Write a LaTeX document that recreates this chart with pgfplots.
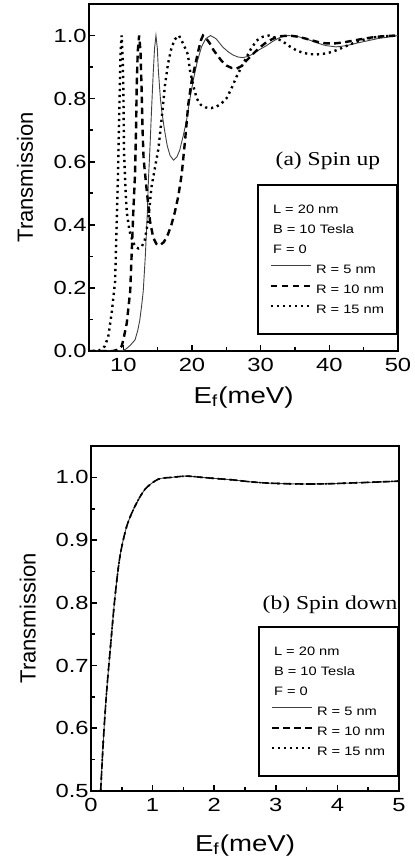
\documentclass[border=0pt]{standalone}
\usepackage{fontspec}
\setmainfont{Liberation Sans}
\newfontfamily\tickfont[FakeStretch=1.25]{Liberation Sans}
\newfontfamily\labfont[FakeStretch=1.2]{Liberation Sans}
\newfontfamily\panelfont[FakeStretch=1.2]{Liberation Serif}
\usepackage{pgfplots}
\pgfplotsset{compat=1.18}

\newcommand{\hdr}[1]{\rlap{\hspace*{-21.5pt}#1}}

\pgfplotsset{
 panel/.style={
  scale only axis, anchor=south west,
  tick pos=left, tick align=inside,
  major tick length=3pt, minor tick length=1.8pt,
  minor x tick num=1, minor y tick num=1,
  axis line style={line width=1.1pt},
  tick style={line width=0.8pt,black},
  ticklabel style={font=\tickfont\fontsize{9.5}{10}\selectfont,
   /pgf/number format/assume math mode=true},
  yticklabel style={/pgf/number format/fixed,/pgf/number format/fixed zerofill,
   /pgf/number format/precision=1, inner xsep=1pt},
  ylabel={Transmission},
  xlabel={E\textsubscript{f}(meV)},
  xlabel style={anchor=base, font=\labfont\fontsize{11.5}{12}\selectfont},
  ylabel style={anchor=center, font=\fontsize{11}{12}\selectfont},
  legend cell align=left,
  legend image code/.code={\draw[##1] (0pt,2pt) -- (20pt,2pt);},
  legend style={draw=black, line width=1pt, anchor=north east,
   font=\labfont\fontsize{6.1}{6.5}\selectfont,
   inner xsep=6pt, inner ysep=9pt, row sep=3.5pt, column sep=1.5pt,
   nodes={inner sep=0.5pt, text height=4.3pt, text depth=1.2pt}},
 },
 rfive/.style={black!75, line width=0.45pt},
 rten/.style={black, line width=1.2pt, dash pattern=on 3.3pt off 2.2pt},
 rfifteen/.style={black, line width=1.2pt, dash pattern=on 1.1pt off 1.9pt},
}

\begin{document}
\begin{tikzpicture}
\useasboundingbox (-44.5pt,-257pt) rectangle (163pt,175.5pt);

% (a) spin up
\begin{axis}[panel, at={(0pt,0pt)},
 width=154.5pt, height=173.5pt,
 xmin=5, xmax=50, ymin=0, ymax=1.1,
 xtick={10,20,30,40,50}, ytick={0,0.2,0.4,0.6,0.8,1.0},
 xlabel style={at={(axis description cs:0.5,-0.15)}},
 ylabel style={at={(axis description cs:-0.207,0.5)}},
 legend style={at={(1,0.48)}}]
\addlegendimage{empty legend}\addlegendentry{\hdr{L = 20 nm}}
\addlegendimage{empty legend}\addlegendentry{\hdr{B = 10 Tesla}}
\addlegendimage{empty legend}\addlegendentry{\hdr{F = 0}}
\addplot[rfive] coordinates {
(5,0) (7,0) (9,0) (10,0.002) (10.5,0.008) (11,0.018) (11.7,0.035) (12.1,0.065)
(12.4,0.098) (12.7,0.15) (12.9,0.19) (13.2,0.30) (13.5,0.44) (13.65,0.54)
(13.85,0.63) (14.1,0.76) (14.35,0.88) (14.55,0.96) (14.75,1.0) (14.95,0.96)
(15.1,0.89) (15.4,0.8) (15.6,0.76) (16.0,0.70) (16.4,0.65) (16.8,0.62)
(17.3,0.605) (17.8,0.615) (18.2,0.636) (18.7,0.68) (19.2,0.73) (19.7,0.80)
(20.2,0.86) (20.8,0.92) (21.4,0.965) (22.0,0.99) (22.7,1.0) (23.5,0.99)
(24.5,0.963) (25.3,0.948) (26.0,0.938) (26.7,0.932) (27.4,0.93) (28.2,0.934)
(28.9,0.942) (29.8,0.955) (30.85,0.968) (31.8,0.982) (32.8,0.994) (33.9,1.0)
(35.2,0.998) (36.6,0.99) (38.0,0.978) (39.5,0.968) (41.0,0.964) (42.5,0.968)
(44.0,0.976) (45.5,0.983) (47,0.99) (48.5,0.995) (50,1.0)};
\addlegendentry{R = 5 nm}
\addplot[rten] coordinates {
(5,0) (7,0) (8.5,0) (9.3,0.005) (9.75,0.015) (10.0,0.035) (10.5,0.088)
(11.0,0.19) (11.2,0.30) (11.45,0.44) (11.7,0.56) (11.85,0.7) (11.95,0.84)
(12.1,0.95) (12.3,1.0) (12.5,0.95) (12.65,0.84) (12.8,0.70) (12.95,0.61)
(13.4,0.51) (13.9,0.41) (14.35,0.36) (14.8,0.34) (15.3,0.335) (15.9,0.345)
(16.5,0.37) (17.0,0.40) (17.5,0.44) (18.0,0.49) (18.5,0.56) (19.0,0.67)
(19.45,0.78) (19.9,0.85) (20.4,0.90) (20.9,0.95) (21.3,0.985) (21.6,1.0)
(22.1,0.99) (22.6,0.975) (23.1,0.955) (23.6,0.94) (24.3,0.92) (25.0,0.905)
(25.8,0.897) (26.5,0.895) (27.2,0.903) (27.9,0.92) (28.9,0.942) (29.9,0.963)
(30.8,0.978) (31.8,0.99) (33,0.998) (34.2,1.0) (35.5,0.996) (36.6,0.99)
(37.6,0.984) (38.6,0.978) (39.6,0.975) (40.8,0.975) (42,0.978) (43.5,0.984)
(45,0.99) (46.5,0.995) (48,0.998) (50,1.0)};
\addlegendentry{R = 10 nm}
\addplot[rfifteen] coordinates {
(5.5,0) (6.5,0.002) (7.3,0.015) (7.8,0.045) (8.3,0.12) (8.8,0.22) (9.0,0.38)
(9.2,0.54) (9.35,0.7) (9.5,0.85) (9.6,0.95) (9.75,1.0) (9.9,0.93) (10.0,0.84)
(10.1,0.63) (10.3,0.52) (10.5,0.44) (10.9,0.38) (11.4,0.345) (11.8,0.33)
(12.2,0.325) (12.7,0.332) (13.1,0.35) (13.6,0.41) (14.1,0.52) (14.6,0.58)
(15.1,0.64) (15.6,0.74) (16.05,0.84) (16.5,0.91) (17.0,0.96) (17.5,0.988)
(18.1,1.0) (18.7,0.975) (19.4,0.94) (19.7,0.89) (20.2,0.84) (20.7,0.80)
(21.3,0.78) (22.0,0.772) (22.8,0.77) (23.6,0.775) (24.3,0.785) (25.0,0.80)
(25.7,0.83) (26.5,0.87) (27.2,0.90) (27.9,0.93) (28.6,0.958) (29.4,0.984)
(30.3,0.996) (31.2,1.0) (32.2,0.993) (33.3,0.98) (34.2,0.966) (35.2,0.953)
(36.2,0.945) (37.2,0.941) (38.1,0.94) (39.1,0.942) (40.0,0.946) (41.0,0.953)
(42.5,0.967) (43.9,0.98) (45.5,0.99) (47.3,0.997) (50,1.0)};
\addlegendentry{R = 15 nm}
\node[font=\panelfont\fontsize{9.8}{10}\selectfont] at (axis cs:39.8,0.602) {(a) Spin up};
\end{axis}

% (b) spin down
\begin{axis}[panel, at={(1pt,-220pt)},
 width=154pt, height=172.5pt,
 xmin=0, xmax=5, ymin=0.5, ymax=1.05,
 xtick={0,1,2,3,4,5}, ytick={0.5,0.6,0.7,0.8,0.9,1.0},
 xlabel style={at={(axis description cs:0.5,-0.174)}},
 ylabel style={at={(axis description cs:-0.205,0.5)}},
 legend style={at={(1,0.477)}}]
\addlegendimage{empty legend}\addlegendentry{\hdr{L = 20 nm}}
\addlegendimage{empty legend}\addlegendentry{\hdr{B = 10 Tesla}}
\addlegendimage{empty legend}\addlegendentry{\hdr{F = 0}}
\addplot[rfive, smooth] coordinates {
(0.157,0.5) (0.2,0.58) (0.255,0.66) (0.325,0.74) (0.39,0.81) (0.47,0.874)
(0.58,0.922) (0.714,0.954) (0.877,0.981) (1.09,0.997) (1.31,1.0) (1.55,1.002)
(1.8,1.0) (2.04,0.998) (2.3,0.996) (2.58,0.993) (2.85,0.991) (3.12,0.990)
(3.4,0.9895) (3.66,0.9895) (3.93,0.990) (4.2,0.991) (4.5,0.992) (4.75,0.993) (5,0.994)};
\addlegendentry{R = 5 nm}
\addplot[rten, line width=0.8pt, smooth] coordinates {
(0.157,0.5) (0.2,0.58) (0.255,0.66) (0.325,0.74) (0.39,0.81) (0.47,0.874)
(0.58,0.922) (0.714,0.954) (0.877,0.981) (1.09,0.997) (1.31,1.0) (1.55,1.002)
(1.8,1.0) (2.04,0.998) (2.3,0.996) (2.58,0.993) (2.85,0.991) (3.12,0.990)
(3.4,0.9895) (3.66,0.9895) (3.93,0.990) (4.2,0.991) (4.5,0.992) (4.75,0.993) (5,0.994)};
\addlegendentry{R = 10 nm}
\addplot[rfifteen, line width=0.8pt, smooth] coordinates {
(0.157,0.5) (0.2,0.58) (0.255,0.66) (0.325,0.74) (0.39,0.81) (0.47,0.874)
(0.58,0.922) (0.714,0.954) (0.877,0.981) (1.09,0.997) (1.31,1.0) (1.55,1.002)
(1.8,1.0) (2.04,0.998) (2.3,0.996) (2.58,0.993) (2.85,0.991) (3.12,0.990)
(3.4,0.9895) (3.66,0.9895) (3.93,0.990) (4.2,0.991) (4.5,0.992) (4.75,0.993) (5,0.994)};
\addlegendentry{R = 15 nm}
\node[font=\panelfont\fontsize{9.8}{10}\selectfont] at (axis cs:3.88,0.797) {(b) Spin down};
\end{axis}
\end{tikzpicture}
\end{document}
